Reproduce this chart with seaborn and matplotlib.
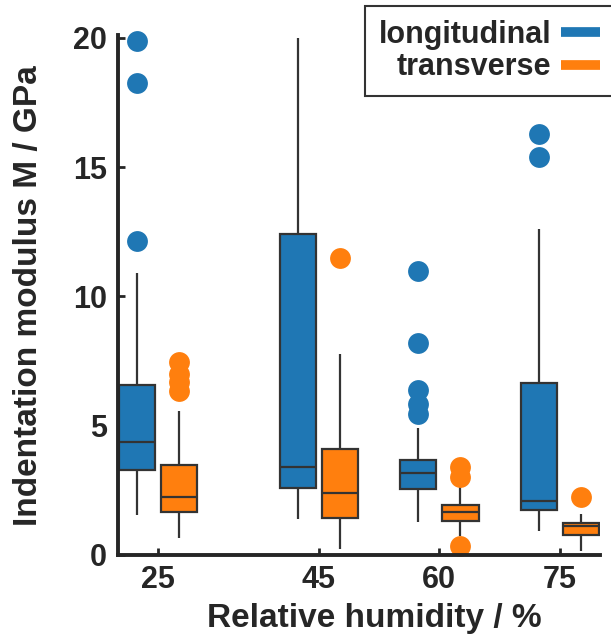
import numpy as np
import pandas as pd
import matplotlib
matplotlib.use("Agg")
import matplotlib.pyplot as plt
from matplotlib.lines import Line2D
import seaborn as sns

# ---- data ----
humidity = [25, 45, 60, 75]
orientations = ["longitudinal", "transverse"]

long_25 = [1.54, 2.1, 2.5, 2.9, 3.1, 3.29, 3.6, 3.9, 4.1, 4.25, 4.36, 4.8, 5.3, 5.8, 6.2, 6.56, 7.8, 10.9, 12.13, 18.25, 19.9]
trans_25 = [0.67, 1.0, 1.25, 1.4, 1.55, 1.65, 1.8, 1.95, 2.05, 2.15, 2.23, 2.4, 2.6, 2.85, 3.1, 3.47, 5.56, 6.36, 6.7, 7.0, 7.46]
long_45 = [1.40, 1.9, 2.3, 2.61, 2.9, 3.2, 3.4, 5.0, 8.0, 12.4, 14.5, 17.0, 20.0]
trans_45 = [0.23, 0.8, 1.1, 1.43, 1.8, 2.1, 2.39, 2.9, 3.5, 4.11, 5.5, 7.77, 11.5]
long_60 = [1.29, 1.7, 2.0, 2.2, 2.35, 2.45, 2.57, 2.65, 2.75, 2.85, 2.95, 3.05, 3.16, 3.25, 3.35, 3.45, 3.52, 3.6, 3.67, 4.9, 5.45, 5.85, 6.38, 8.2, 11.0]
trans_60 = [0.33, 0.75, 0.95, 1.05, 1.15, 1.22, 1.30, 1.38, 1.45, 1.5, 1.55, 1.6, 1.66, 1.7, 1.74, 1.78, 1.83, 1.88, 1.92, 2.0, 2.15, 2.35, 2.7, 3.03, 3.42]
long_75 = [0.94, 1.3, 1.55, 1.74, 1.85, 1.98, 2.10, 3.0, 4.8, 6.64, 12.6, 15.4, 16.3]
trans_75 = [0.17, 0.45, 0.62, 0.76, 0.95, 1.05, 1.12, 1.16, 1.2, 1.23, 1.4, 1.59, 2.26]

y_ticks = [0, 5, 10, 15, 20]
x_label = "Relative humidity / %"
y_label = "Indentation modulus M / GPa"

groups = {
    (25, "longitudinal"): long_25, (25, "transverse"): trans_25,
    (45, "longitudinal"): long_45, (45, "transverse"): trans_45,
    (60, "longitudinal"): long_60, (60, "transverse"): trans_60,
    (75, "longitudinal"): long_75, (75, "transverse"): trans_75,
}
rows = []
for (rh, ori), vals in groups.items():
    for v in vals:
        rows.append({"RH": rh, "orientation": ori, "M": v})
df = pd.DataFrame(rows)

colors = {"longitudinal": "#1f77b4", "transverse": "#ff7f0e"}
dark = "#262626"

sns.set_style("ticks")
plt.rcParams["font.family"] = ["Liberation Sans", "DejaVu Sans"]
plt.rcParams["font.weight"] = "bold"
plt.rcParams["axes.labelweight"] = "bold"

fig = plt.figure(figsize=(6.11, 6.39), dpi=100)
ax = fig.add_axes([118 / 611, 1 - 555 / 639, (600 - 118) / 611, (555 - 35.4) / 639])

sns.boxplot(
    data=df, x="RH", y="M", hue="orientation", hue_order=orientations,
    native_scale=True, width=0.7, gap=0.14, palette=colors, saturation=1,
    linecolor="#333333", linewidth=1.6, showcaps=False,
    flierprops=dict(marker="o", markersize=15, markeredgewidth=0),
    legend=False, ax=ax,
)

# colour outliers like their boxes
for ln in ax.lines:
    if ln.get_marker() == "o":
        xd = np.asarray(ln.get_xdata(), dtype=float)
        if xd.size == 0:
            continue
        xm = xd.mean()
        c = min(humidity, key=lambda h: abs(h - xm))
        col = colors["longitudinal"] if xm < c else colors["transverse"]
        ln.set_markerfacecolor(col)
        ln.set_markeredgecolor(col)
        ln.set_clip_on(False)

ax.set_xlim(20, 80)
ax.set_ylim(0, 20.1)
ax.set_xticks(humidity)
ax.set_xticklabels([str(h) for h in humidity])
ax.set_yticks(y_ticks)
ax.set_yticklabels([str(t) for t in y_ticks])

sns.despine(ax=ax)
for s in ["left", "bottom"]:
    ax.spines[s].set_linewidth(2.8)
    ax.spines[s].set_color(dark)
ax.tick_params(axis="both", direction="in", length=5, width=2, color=dark,
               labelsize=22, labelcolor=dark)
ax.tick_params(axis="x", pad=7)
ax.tick_params(axis="y", pad=8)
for lab in ax.get_xticklabels() + ax.get_yticklabels():
    lab.set_fontweight("bold")

ax.set_xlabel(x_label, fontsize=24, fontweight="bold", color=dark)
ax.set_ylabel(y_label, fontsize=24, fontweight="bold", color=dark)
ax.xaxis.set_label_coords((374 - 118) / (600 - 118), -0.092)
ax.yaxis.set_label_coords(-0.1535, 0.5)

handles = [Line2D([0], [0], color=colors[o], lw=7, solid_capstyle="butt") for o in orientations]
leg = fig.legend(handles, orientations, loc="upper right",
                 bbox_to_anchor=(614 / 611, 1 - 6 / 639), bbox_transform=fig.transFigure,
                 borderaxespad=0,
                 markerfirst=False, fontsize=22, frameon=True, fancybox=False,
                 framealpha=1, edgecolor="#333333", handlelength=1.3, handletextpad=0.3,
                 labelspacing=0.08, borderpad=0.45)
leg.get_frame().set_linewidth(1.5)
for t in leg.get_texts():
    t.set_fontweight("bold")
    t.set_color(dark)

fig.savefig("out.png", dpi=100)
